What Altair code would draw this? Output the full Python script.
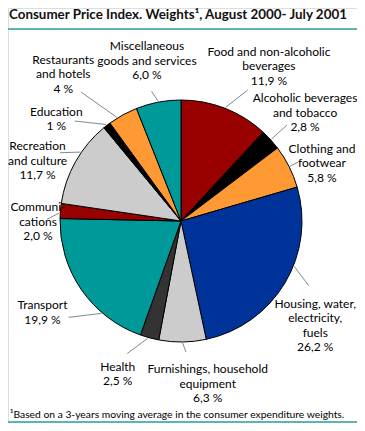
import math
import altair as alt
import pandas as pd

# ---- data ----
names = [
    "Food and non-alcoholic\nbeverages",
    "Alcoholic beverages\nand tobacco",
    "Clothing and\nfootwear",
    "Housing, water,\nelectricity,\nfuels",
    "Furnishings, household\nequipment",
    "Health",
    "Transport",
    "Communi-\ncations",
    "Recreation\nand culture",
    "Education",
    "Restaurants\nand hotels",
    "Miscellaneous\ngoods and services",
]
weights = [11.9, 2.8, 5.8, 26.2, 6.3, 2.5, 19.9, 2.0, 11.7, 1.0, 4.0, 6.0]
pct_text = ["11,9 %", "2,8 %", "5,8 %", "26,2 %", "6,3 %", "2,5 %",
            "19,9 %", "2,0 %", "11,7 %", "1 %", "4 %", "6,0 %"]
colors = ["#990000", "#000000", "#ff9933", "#003399", "#cccccc", "#333333",
          "#009999", "#990000", "#cccccc", "#000000", "#ff9933", "#009999"]

title_text = "Consumer Price Index. Weights\u00b9, August 2000- July 2001"
foot_text = "\u00b9Based on a 3-years moving average in the consumer expenditure weights."

# ---- layout (styling, not data) ----
W, H = 349, 415
CX, CY, R = 173, 213, 121
LH = 14.5
label_shift = [8.2, 1.7, 5.0, 6.0, -8.6, 6.7, 1.2, -5.0, -7.7, -13.0, -10.0, -1.2]
label_r = [178, 167, 156, 174, 165, 165, 166, 154, 163, 161, 188, 164]
label_dx = [0, -3, -4, -5, 0, -2, 0, 11, 8, 0, 0, 0]
lead_start_shift = [0, 0, 0, -9, 0, 0.7, -14.6, -1, 5, 0, -3, 0]
lead_end_shift = [5.6, 0, 0, -4, -1.5, 7, -6, -4, 0, -9, -9, -2]
lead_end_r = [147, 143, 131, 143, 131, 143, 148, 134, 139, 146, 163, 133]

total = sum(weights)
rows = []
cum = 0.0
for i, w in enumerate(weights):
    mid = (cum + w / 2) / total * 360.0
    cum += w
    def pt(a, r):
        t = math.radians(a)
        return CX + r * math.sin(t), CY - r * math.cos(t)
    text = names[i] + "\n" + pct_text[i]
    n_lines = text.count("\n") + 1
    lx, ly = pt(mid + label_shift[i], label_r[i])
    lx += label_dx[i]
    ly -= (n_lines - 1) / 2 * LH
    sx, sy = pt(mid + lead_start_shift[i], R + 1)
    ex, ey = pt(mid + lead_end_shift[i], lead_end_r[i])
    rows.append(dict(i=i, w=w, c=colors[i], label=text,
                     lx=lx, ly=ly, sx=sx, sy=sy, ex=ex, ey=ey))
df = pd.DataFrame(rows)

base = alt.Chart(df)

pie = base.mark_arc(radius=R, stroke="#000000", strokeWidth=1).encode(
    theta=alt.Theta("w:Q", stack=True),
    order=alt.Order("i:Q"),
    color=alt.Color("c:N", scale=None),
    x=alt.value(CX),
    y=alt.value(CY),
)

leaders = base.mark_rule(color="#7a8c8c", strokeWidth=1).encode(
    x=alt.X("sx:Q", scale=None),
    y=alt.Y("sy:Q", scale=None),
    x2="ex:Q",
    y2="ey:Q",
)

labels = base.mark_text(font="Lato", fontSize=12, lineHeight=LH, lineBreak="\n",
                        align="center", baseline="middle", color="#000000").encode(
    x=alt.X("lx:Q", scale=None),
    y=alt.Y("ly:Q", scale=None),
    text="label:N",
)

deco = pd.DataFrame({"k": ["title", "foot"], "t": [title_text, foot_text]})

title = alt.Chart(deco[deco.k == "title"]).mark_text(
    font="Lato", fontSize=13.4, fontWeight="bold", align="left", baseline="alphabetic",
    color="#111111").encode(x=alt.value(1), y=alt.value(11), text="t:N")

foot = alt.Chart(deco[deco.k == "foot"]).mark_text(
    font="Lato", fontSize=10.3, align="left", baseline="middle",
    color="#000000").encode(x=alt.value(2), y=alt.value(407), text="t:N")

line1 = alt.Chart(deco[deco.k == "title"]).mark_rule(color="#2a9a9a", strokeWidth=1.5).encode(
    x=alt.value(-3), x2=alt.value(W + 4), y=alt.value(21))
line2 = alt.Chart(deco[deco.k == "foot"]).mark_rule(color="#2a9a9a", strokeWidth=1.5).encode(
    x=alt.value(-3), x2=alt.value(W + 4), y=alt.value(414))

chart = alt.layer(pie, leaders, labels, title, foot, line1, line2).properties(
    width=W, height=H, padding=0, autosize=alt.AutoSizeParams(type="none")
).configure_view(stroke=None).configure(background="#ffffff")

chart.save("out.html", embed_options={"renderer": "svg", "actions": False})
